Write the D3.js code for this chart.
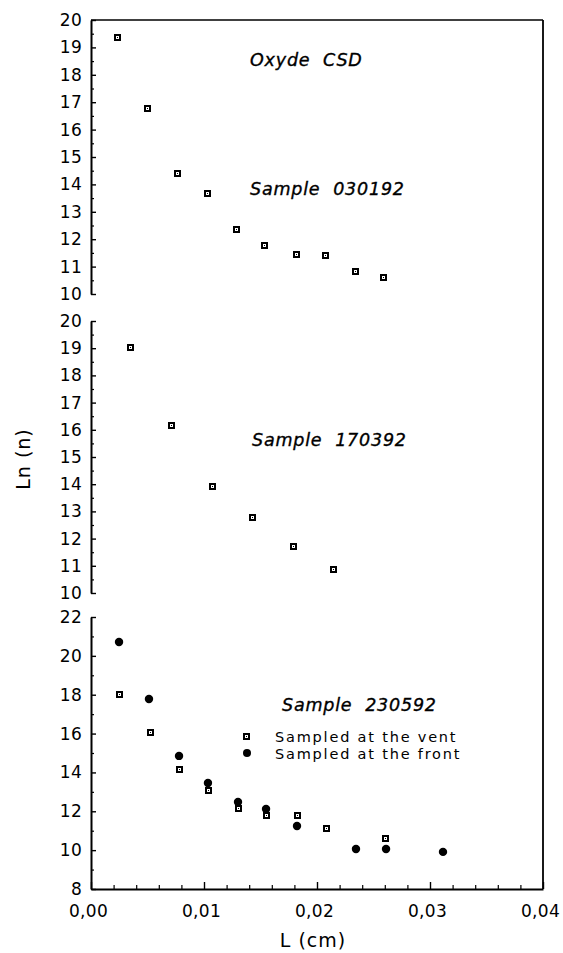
<!DOCTYPE html>
<html>
<head>
<meta charset="utf-8">
<script src="https://cdn.jsdelivr.net/npm/d3@7"></script>
<style>
  html, body { margin: 0; padding: 0; background: #fff; }
  svg { display: block; }
  .axis text { font-family: "DejaVu Sans", sans-serif; font-size: 17px; fill: #000; letter-spacing: 0.3px; }
  .axis path, .axis line { stroke: #000; }
  .title { font-family: "DejaVu Sans", sans-serif; font-style: italic; font-size: 17.5px; letter-spacing: 0.8px; fill: #000; stroke: #000; stroke-width: 0.35px; }
  .legend { font-family: "DejaVu Sans", sans-serif; font-size: 14.5px; letter-spacing: 1.8px; fill: #000; }
  .alabel { font-family: "DejaVu Sans", sans-serif; font-size: 19px; letter-spacing: 1px; fill: #000; }
</style>
</head>
<body>
<svg id="chart" width="563" height="953"></svg>
<script>
// Crystal size distributions, Ln(n) against crystal length L (cm)

// Sample 030192
const s030192_L  = [0.0024, 0.0050, 0.0077, 0.01035, 0.0129, 0.0154, 0.0182, 0.0208, 0.02345, 0.0259];
const s030192_Ln = [19.34, 16.75, 14.38, 13.65, 12.34, 11.75, 11.42, 11.39, 10.80, 10.58];

// Sample 170392
const s170392_L  = [0.00354, 0.00717, 0.0108, 0.01434, 0.01796, 0.0215];
const s170392_Ln = [19.01, 16.14, 13.90, 12.76, 11.69, 10.85];

// Sample 230592, sampled at the vent
const ventL  = [0.00257, 0.00531, 0.00788, 0.01044, 0.0131, 0.01558, 0.01832, 0.02088, 0.02611];
const ventLn = [17.99, 16.03, 14.13, 13.04, 12.12, 11.76, 11.76, 11.09, 10.57];

// Sample 230592, sampled at the front
const frontL  = [0.00248, 0.00513, 0.00779, 0.01035, 0.01301, 0.01549, 0.01823, 0.02345, 0.02611, 0.03115];
const frontLn = [20.71, 17.78, 14.85, 13.46, 12.48, 12.12, 11.24, 10.06, 10.06, 9.91];

// Axis ticks
const xTicks      = [0, 0.01, 0.02, 0.03, 0.04];
const xMinorTicks = d3.range(0, 0.0401, 0.002);
const yTicksUpper = d3.range(10, 21, 1);
const yTicksLower = [8, 10, 12, 14, 16, 18, 20, 22];

const titles = ["Oxyde  CSD", "Sample  030192", "Sample  170392", "Sample  230592"];
const legendLabels = ["Sampled at the vent", "Sampled at the front"];

const svg = d3.select("#chart");
const left = 91, right = 543;

const x = d3.scaleLinear().domain([0, 0.04]).range([left, right]);
const yTop = d3.scaleLinear().domain([10, 20]).range([294, 20]);
const yMid = d3.scaleLinear().domain([10, 20]).range([593, 321]);
const yBot = d3.scaleLinear().domain([8, 22]).range([889, 617]);

// frame: top edge and right edge
svg.append("line").attr("x1", left).attr("x2", right).attr("y1", 20).attr("y2", 20)
  .attr("stroke", "#000").attr("stroke-width", 1.6);
svg.append("line").attr("x1", right).attr("x2", right).attr("y1", 20).attr("y2", 889)
  .attr("stroke", "#000").attr("stroke-width", 1.8);

function leftAxis(scale, ticks, minorStep) {
  const g = svg.append("g").attr("class", "axis").attr("transform", `translate(${left},0)`);
  g.call(d3.axisLeft(scale).tickValues(ticks).tickSizeInner(-5).tickSizeOuter(0)
    .tickPadding(9).tickFormat(d3.format("d")));
  g.select(".domain").attr("stroke-width", 2);
  g.selectAll(".tick line").attr("stroke-width", 1.4);
  const [a, b] = scale.domain();
  const minor = d3.range(a, b + 1e-9, minorStep).filter(v => !ticks.includes(v));
  const m = svg.append("g").attr("class", "axis").attr("transform", `translate(${left},0)`);
  m.call(d3.axisLeft(scale).tickValues(minor).tickSizeInner(-3).tickSizeOuter(0).tickFormat(""));
  m.select(".domain").remove();
  m.selectAll(".tick line").attr("stroke-width", 1.2);
}
leftAxis(yTop, yTicksUpper, 0.5);
leftAxis(yMid, yTicksUpper, 0.5);
leftAxis(yBot, yTicksLower, 1);

// x axis
const gx = svg.append("g").attr("class", "axis").attr("transform", "translate(0,889)");
gx.call(d3.axisBottom(x).tickValues(xTicks).tickSizeInner(-7).tickSizeOuter(0)
  .tickPadding(16).tickFormat(d => d3.format(".2f")(d).replace(".", ",")));
gx.select(".domain").attr("stroke-width", 2);
gx.selectAll(".tick line").attr("stroke-width", 1.4);
gx.selectAll(".tick text").attr("dx", "-3");
const gxm = svg.append("g").attr("class", "axis").attr("transform", "translate(0,889)");
gxm.call(d3.axisBottom(x).tickValues(xMinorTicks.filter(v => !xTicks.some(t => Math.abs(t - v) < 1e-9))).tickSizeInner(-4).tickSizeOuter(0).tickFormat(""));
gxm.select(".domain").remove();
gxm.selectAll(".tick line").attr("stroke-width", 1.2);

// markers: open square with a centre dot, snapped to whole pixels
function squareAt(g, cx, cy) {
  const px = Math.round(cx), py = Math.round(cy);
  g.append("rect").attr("x", px - 3).attr("y", py - 3).attr("width", 5).attr("height", 5)
    .attr("fill", "#fff").attr("stroke", "#000").attr("stroke-width", 2);
  g.append("rect").attr("x", px - 1).attr("y", py - 1).attr("width", 1).attr("height", 1)
    .attr("fill", "#000");
}
function squares(L, Ln, yScale) {
  const g = svg.append("g");
  d3.zip(L, Ln).forEach(d => squareAt(g, x(d[0]), yScale(d[1])));
}
function dots(L, Ln, yScale) {
  svg.append("g").selectAll("circle").data(d3.zip(L, Ln)).join("circle")
    .attr("cx", d => x(d[0])).attr("cy", d => yScale(d[1])).attr("r", 4.2).attr("fill", "#000");
}
squares(s030192_L, s030192_Ln, yTop);
squares(s170392_L, s170392_Ln, yMid);
dots(frontL, frontLn, yBot);
squares(ventL, ventLn, yBot);

// panel titles
const titlePos = [[250, 66], [250, 195], [252, 446], [282, 711]];
svg.selectAll("text.title").data(titles).join("text").attr("class", "title")
  .attr("x", (d, i) => titlePos[i][0]).attr("y", (d, i) => titlePos[i][1])
  .attr("xml:space", "preserve").style("white-space", "pre").text(d => d);

// legend
const lg = svg.append("g");
squareAt(lg, 247, 737);
lg.append("circle").attr("cx", 247).attr("cy", 753).attr("r", 4).attr("fill", "#000");
lg.selectAll("text").data(legendLabels).join("text").attr("class", "legend")
  .attr("x", 275).attr("y", (d, i) => 742 + i * 17).text(d => d);

// axis labels
svg.append("text").attr("class", "alabel").attr("x", 313).attr("y", 947)
  .attr("text-anchor", "middle").text("L (cm)");
svg.append("text").attr("class", "alabel")
  .attr("transform", "translate(30,459) rotate(-90)")
  .attr("text-anchor", "middle").text("Ln (n)");
</script>
</body>
</html>
